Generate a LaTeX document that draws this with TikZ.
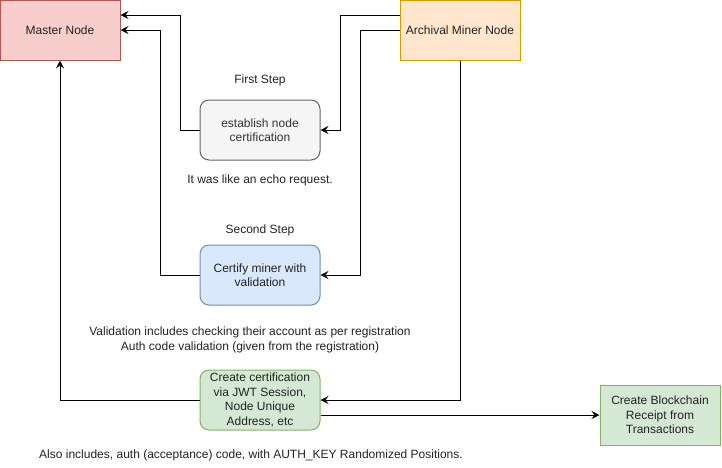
\documentclass[tikz,border=0pt]{standalone}
\usepackage{fontspec}
\setmainfont{Liberation Sans}
\usetikzlibrary{arrows.meta}
\definecolor{redfill}{HTML}{F8CECC}
\definecolor{redline}{HTML}{B85450}
\definecolor{orfill}{HTML}{FFE6CC}
\definecolor{orline}{HTML}{D79B00}
\definecolor{grfill}{HTML}{F5F5F5}
\definecolor{grline}{HTML}{666666}
\definecolor{blfill}{HTML}{DAE8FC}
\definecolor{blline}{HTML}{6C8EBF}
\definecolor{gnfill}{HTML}{D5E8D4}
\definecolor{gnline}{HTML}{82B366}
\definecolor{txt}{HTML}{222222}
\definecolor{txtgray}{HTML}{333333}
\begin{document}
\begin{tikzpicture}[x=1pt,y=-1pt,
  every node/.style={font=\fontsize{12}{14.4}\selectfont, text=txt},
  box/.style={draw, line width=1pt, minimum width=120pt, minimum height=60pt, inner sep=0pt, align=center},
  rbox/.style={box, rounded corners=9pt},
  lbl/.style={align=center, inner sep=0pt},
  arr/.style={draw=black, line width=1pt, -{Stealth[length=8pt,width=8pt,inset=3pt]}}
]
\useasboundingbox (0,0) rectangle (722,467);
\node[box, fill=redfill, draw=redline] (master) at (60,30) {Master Node};
\node[box, fill=orfill, draw=orline] (arch) at (460,30) {Archival Miner Node};
\node[rbox, fill=grfill, draw=grline, text=txtgray] (est) at (260,130) {establish node\\certification};
\node[rbox, fill=blfill, draw=blline] (cert) at (260,275) {Certify miner with\\validation};
\node[rbox, fill=gnfill, draw=gnline] (create) at (260,400) {Create certification\\via JWT Session,\\Node Unique\\Address, etc};
\node[box, fill=gnfill, draw=gnline] (chain) at (660,415) {Create Blockchain\\Receipt from\\Transactions};

\node[lbl] (first) at (260,80) {First Step};
\node[lbl] (echo) at (260,180) {It was like an echo request.};
\node[lbl] (second) at (260,230) {Second Step};
\node[lbl] (valid) at (250,340) {Validation includes checking their account as per registration\\Auth code validation (given from the registration)};
\node[lbl] (also) at (251,455) {Also includes, auth (acceptance) code, with AUTH\_KEY Randomized Positions.};

\draw[arr] ([yshift=15pt]arch.west) -| ([xshift=20pt]est.east) -- (est.east);
\draw[arr] (arch.west) -| ([xshift=40pt]cert.east) -- (cert.east);
\draw[arr] (arch.south) |- (create.east);
\draw[arr] (est.west) -| ([xshift=60pt,yshift=15pt]master.east) -- ([yshift=15pt]master.east);
\draw[arr] (cert.west) -| ([xshift=40pt]master.east) -- (master.east);
\draw[arr] (create.west) -| (master.south);
\draw[arr] ([yshift=-15pt]create.east) -- (chain.west);
\end{tikzpicture}
\end{document}
